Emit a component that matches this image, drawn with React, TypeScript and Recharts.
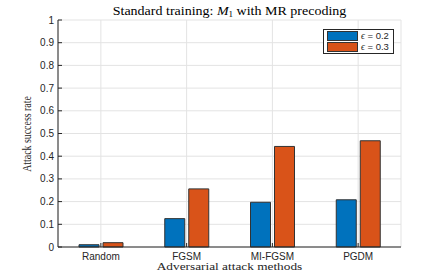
import React from "react";
import {
  BarChart,
  Bar,
  XAxis,
  YAxis,
  CartesianGrid,
} from "recharts";

// attack methods on the x axis
const methods = ["Random", "FGSM", "MI-FGSM", "PGDM"];
// attack success rate for each epsilon
const eps02 = [0.01, 0.125, 0.197, 0.208];
const eps03 = [0.019, 0.256, 0.443, 0.468];
const yTicks = [0, 0.1, 0.2, 0.3, 0.4, 0.5, 0.6, 0.7, 0.8, 0.9, 1];
const seriesNames = ["0.2", "0.3"];
const seriesColors = ["#0072BD", "#D95319"];

const data = methods.map((m, i) => ({ name: m, e02: eps02[i], e03: eps03[i] }));

const AXIS = "#262626";
const GRID = "#e3e3e3";
const TICK_LEN = 4;
const sans = "'Liberation Sans', Arial, sans-serif";
const serif = "'Liberation Serif', 'DejaVu Serif', serif";

const LeftTick = ({ x, y, payload }: any) => (
  <g>
    <line x1={x + 4} x2={x + 4 + TICK_LEN} y1={y} y2={y} stroke={AXIS} />
    <text x={x} y={y} dy={3.5} textAnchor="end" fontSize={10} fill={AXIS} fontFamily={sans}>
      {payload.value}
    </text>
  </g>
);

const RightTick = ({ x, y }: any) => (
  <line x1={x - 4} x2={x - 4 - TICK_LEN} y1={y} y2={y} stroke={AXIS} />
);

const BottomTick = ({ x, y, payload }: any) => (
  <g>
    <line x1={x} x2={x} y1={y - 4} y2={y - 4 - TICK_LEN} stroke={AXIS} />
    <text x={x} y={y} dy={8.5} textAnchor="middle" fontSize={10} fill={AXIS} fontFamily={sans}>
      {payload.value}
    </text>
  </g>
);

const TopTick = ({ x, y }: any) => (
  <line x1={x} x2={x} y1={y + 4} y2={y + 4 + TICK_LEN} stroke={AXIS} />
);

const LegendBox = () => (
  <div
    style={{
      position: "absolute",
      left: 323,
      top: 29,
      border: "1px solid #262626",
      background: "#fff",
      padding: "1px 4px 1px 3px",
      fontFamily: sans,
      fontSize: 9.5,
      color: AXIS,
      lineHeight: "10px",
    }}
  >
    {seriesNames.map((t, i) => (
      <div key={t} style={{ display: "flex", alignItems: "center", height: 10.5 }}>
        <span
          style={{
            display: "inline-block",
            width: 29,
            height: 8,
            background: seriesColors[i],
            border: "1px solid #333",
            marginRight: 3,
          }}
        />
        <span>
          <i style={{ fontFamily: serif }}>ϵ</i> = {t}
        </span>
      </div>
    ))}
  </div>
);

const App: React.FC = () => {
  return (
    <div style={{ position: "absolute", left: 0, top: 0, width: 443, height: 277, background: "#fff" }}>
      <BarChart
        width={443}
        height={277}
        data={data}
        margin={{ top: 20, right: 42, left: 0, bottom: 0 }}
        barSize={20}
        barGap={4}
        style={{ position: "absolute", left: 0, top: 0 }}
      >
        <CartesianGrid stroke={GRID} strokeWidth={1} />
        <XAxis
          dataKey="name"
          xAxisId={0}
          height={30}
          tickSize={0}
          tickMargin={4}
          tick={<BottomTick />}
          axisLine={{ stroke: AXIS }}
          tickLine={false}
        />
        <XAxis
          dataKey="name"
          xAxisId="top"
          orientation="top"
          height={0}
          tickSize={0}
          tickMargin={4}
          tick={<TopTick />}
          axisLine={{ stroke: AXIS }}
          tickLine={false}
        />
        <YAxis
          yAxisId={0}
          width={58}
          domain={[0, 1]}
          ticks={yTicks}
          interval={0}
          tickSize={0}
          tickMargin={4}
          tick={<LeftTick />}
          axisLine={{ stroke: AXIS }}
          tickLine={false}
        />
        <YAxis
          yAxisId="right"
          orientation="right"
          width={0}
          domain={[0, 1]}
          ticks={yTicks}
          interval={0}
          tickSize={0}
          tickMargin={4}
          tick={<RightTick />}
          axisLine={{ stroke: AXIS }}
          tickLine={false}
        />
        <Bar
          dataKey="e02"
          name="ϵ = 0.2"
          fill={seriesColors[0]}
          stroke="#333333"
          strokeWidth={1}
          isAnimationActive={false}
        />
        <Bar
          dataKey="e03"
          name="ϵ = 0.3"
          fill={seriesColors[1]}
          stroke="#333333"
          strokeWidth={1}
          isAnimationActive={false}
        />
      </BarChart>
      <div
        style={{
          position: "absolute",
          top: 4,
          left: 58,
          width: 343,
          textAlign: "center",
          fontFamily: serif,
          fontSize: 14,
          color: "#000",
          lineHeight: "14px",
          whiteSpace: "nowrap",
          transform: "scaleY(0.82)",
          transformOrigin: "50% 11.7px",
        }}
      >
        Standard training: <i>M</i>
        <span style={{ fontSize: 9, verticalAlign: "-2px" }}>1</span> with MR precoding
      </div>
      <div
        style={{
          position: "absolute",
          left: 58,
          top: 259,
          width: 343,
          textAlign: "center",
          fontFamily: serif,
          fontSize: 13.3,
          color: AXIS,
          lineHeight: "13px",
          whiteSpace: "nowrap",
          transform: "scaleY(0.78)",
          transformOrigin: "50% 11px",
        }}
      >
        Adversarial attack methods
      </div>
      <div
        style={{
          position: "absolute",
          left: 26,
          top: 133.5,
          transform: "translate(-50%, -50%) rotate(-90deg) scaleX(0.76)",
          whiteSpace: "nowrap",
          fontFamily: serif,
          fontSize: 13,
          color: AXIS,
          lineHeight: "13px",
        }}
      >
        Attack success rate
      </div>
      <LegendBox />
    </div>
  );
};

export default App;
